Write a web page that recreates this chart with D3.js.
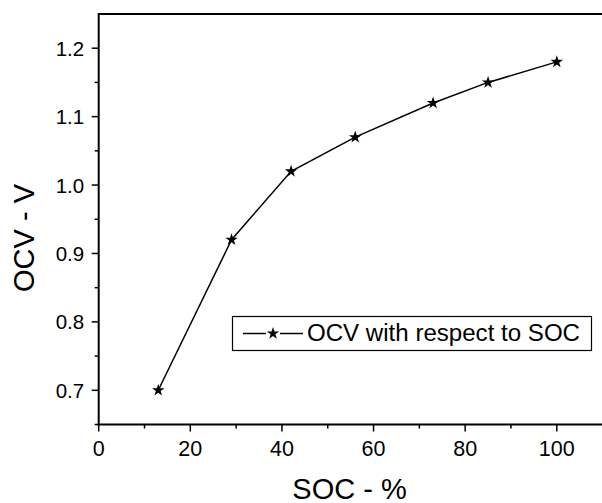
<!DOCTYPE html>
<html>
<head>
<meta charset="utf-8">
<script src="https://cdn.jsdelivr.net/npm/d3@7"></script>
<style>
  body { margin: 0; background: #fff; }
  svg { display: block; font-family: Arial, "Liberation Sans", sans-serif; }
</style>
</head>
<body>
<svg id="chart" width="602" height="503"></svg>
<script>
// OCV vs SOC readings
var soc = [13, 29, 42, 56, 73, 85, 100];
var ocv = [0.70, 0.92, 1.02, 1.07, 1.12, 1.15, 1.18];
var xTicks = [0, 20, 40, 60, 80, 100];
var yTicks = [0.7, 0.8, 0.9, 1.0, 1.1, 1.2];
var seriesName = "OCV with respect to SOC";

var svg = d3.select("#chart");
var mLeft = 98.7, mTop = 14, mRight = 602.6, mBottom = 424.5;

var x = d3.scaleLinear().domain([0, 110]).range([mLeft, mRight]);
var y = d3.scaleLinear().domain([0.65, 1.25]).range([mBottom, mTop]);

var data = soc.map(function (d, i) { return { s: d, v: ocv[i] }; });

// top border (right border falls outside the picture)
svg.append("line")
    .attr("x1", mLeft).attr("x2", mRight).attr("y1", mTop).attr("y2", mTop)
    .attr("stroke", "#000")
    .attr("stroke-width", 2);

// x axis
var gx = svg.append("g").attr("transform", "translate(0," + mBottom + ")");
gx.append("line").attr("x1", mLeft - 1).attr("x2", mRight).attr("stroke", "#000").attr("stroke-width", 2);
gx.selectAll(".minor").data(d3.range(10, 110, 20)).enter().append("line")
    .attr("x1", d => x(d)).attr("x2", d => x(d))
    .attr("y1", 0).attr("y2", 4)
    .attr("stroke", "#000").attr("stroke-width", 1.5);
gx.selectAll(".major").data(xTicks).enter().append("line")
    .attr("x1", d => x(d)).attr("x2", d => x(d))
    .attr("y1", 0).attr("y2", 7)
    .attr("stroke", "#000").attr("stroke-width", 1.5);
gx.selectAll("text").data(xTicks).enter().append("text")
    .attr("x", d => x(d)).attr("y", 31.5)
    .attr("text-anchor", "middle")
    .attr("font-size", 21.5)
    .text(d => d);

// y axis
var gy = svg.append("g").attr("transform", "translate(" + mLeft + ",0)");
gy.append("line").attr("y1", mTop - 1).attr("y2", mBottom + 1).attr("stroke", "#000").attr("stroke-width", 2);
gy.selectAll(".minor").data([0.65, 0.75, 0.85, 0.95, 1.05, 1.15]).enter().append("line")
    .attr("y1", d => y(d)).attr("y2", d => y(d))
    .attr("x1", 0).attr("x2", -4)
    .attr("stroke", "#000").attr("stroke-width", 1.5);
gy.selectAll(".major").data(yTicks).enter().append("line")
    .attr("y1", d => y(d)).attr("y2", d => y(d))
    .attr("x1", 0).attr("x2", -7)
    .attr("stroke", "#000").attr("stroke-width", 1.5);
gy.selectAll("text").data(yTicks).enter().append("text")
    .attr("x", -14.5).attr("y", d => y(d) + 7.5)
    .attr("text-anchor", "end")
    .attr("font-size", 20.5)
    .text(d => d3.format(".1f")(d));

// axis titles
svg.append("text")
    .attr("x", 349.5).attr("y", 498.5)
    .attr("text-anchor", "middle")
    .attr("font-size", 29)
    .text("SOC - %");
svg.append("text")
    .attr("transform", "translate(34,238) rotate(-90)")
    .attr("text-anchor", "middle")
    .attr("font-size", 29)
    .text("OCV - V");

// series
var line = d3.line().x(d => x(d.s)).y(d => y(d.v));
svg.append("path")
    .datum(data)
    .attr("d", line)
    .attr("fill", "none")
    .attr("stroke", "#000")
    .attr("stroke-width", 1.5);

var star = d3.symbol().type(d3.symbolStar).size(48);
svg.selectAll(".pt").data(data).enter().append("path")
    .attr("transform", d => "translate(" + x(d.s) + "," + y(d.v) + ")")
    .attr("d", star)
    .attr("fill", "#000");

// legend
var lg = svg.append("g");
lg.append("rect")
    .attr("x", 232.5).attr("y", 316.5)
    .attr("width", 359).attr("height", 34)
    .attr("fill", "#fff").attr("stroke", "#000").attr("stroke-width", 1.2);
[[243, 266], [280, 303]].forEach(function (seg) {
    lg.append("line")
        .attr("x1", seg[0]).attr("x2", seg[1]).attr("y1", 333.5).attr("y2", 333.5)
        .attr("stroke", "#000").attr("stroke-width", 1.5);
});
lg.append("path")
    .attr("transform", "translate(273,333.5)")
    .attr("d", star)
    .attr("fill", "#000");
lg.append("text")
    .attr("x", 307).attr("y", 341)
    .attr("font-size", 23)
    .attr("textLength", 273)
    .attr("lengthAdjust", "spacingAndGlyphs")
    .text(seriesName);
</script>
</body>
</html>
